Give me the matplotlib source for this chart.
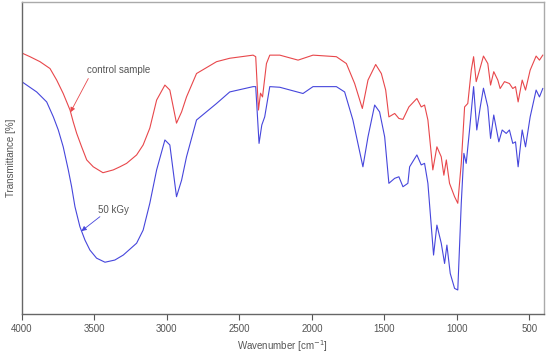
import matplotlib
matplotlib.use("Agg")
import matplotlib.pyplot as plt

plt.rcParams['font.family'] = ['Liberation Sans', 'DejaVu Sans']

# FTIR spectra (wavenumber in cm-1, transmittance in arbitrary %)
control_wn = [4000, 3943, 3874, 3805, 3759, 3714, 3667, 3645, 3621, 3587, 3552, 3507,
              3440, 3369, 3323, 3277, 3208, 3163, 3117, 3070, 3013,
              2979, 2933, 2898, 2864, 2795, 2657, 2566, 2405, 2387, 2368, 2354, 2340,
              2313, 2290, 2221, 2095, 1992, 1831, 1762, 1705, 1652, 1613, 1560, 1521,
              1491, 1469, 1429, 1400, 1372, 1331, 1276, 1246, 1223, 1200, 1166, 1138,
              1108, 1090, 1073, 1051, 1016, 994, 970, 947, 925, 901, 885, 867, 844,
              817, 787, 768, 746, 718, 702, 672, 638, 615, 596, 578, 550, 527, 495,
              454, 431, 408]
control_t = [83.7, 82.5, 80.9, 78.7, 75.0, 70.7, 65.4, 61.6, 57.9, 53.6, 49.4, 47.2,
             45.3, 46.2, 47.2, 48.3, 51.0, 54.2, 59.6, 68.6, 73.4,
             71.8, 61.2, 64.8, 69.6, 77.1, 80.9, 82.0, 83.0, 82.5, 65.4, 70.8, 69.6,
             80.3, 83.0, 83.0, 81.4, 83.0, 82.5, 80.3, 73.9, 65.9, 75.0, 80.0, 77.1,
             71.8, 63.2, 64.3, 62.7, 62.4, 66.4, 69.1, 66.4, 67.0, 62.2, 46.2, 53.6,
             50.4, 44.5, 49.4, 41.9, 37.6, 35.5, 48.3, 66.4, 67.5, 78.2, 82.5, 74.5, 78.2,
             82.7, 80.3, 73.4, 77.7, 75.0, 72.3, 74.5, 73.9, 72.3, 72.9, 68.0, 75.0, 71.8, 78.2,
             82.7, 81.4, 83.0]

irr_wn = [4000, 3897, 3828, 3782, 3748, 3714, 3679, 3656, 3633, 3599, 3564, 3530,
          3484, 3426, 3358, 3300, 3208, 3163, 3117, 3070,
          3013, 2979, 2933, 2898, 2864, 2795, 2657, 2566, 2405, 2387, 2364, 2345,
          2325, 2290, 2221, 2061, 1992, 1831, 1774, 1717, 1648, 1613, 1567, 1533,
          1498, 1469, 1429, 1400, 1372, 1338, 1326, 1276, 1246, 1223, 1200, 1161,
          1138, 1108, 1085, 1069, 1046, 1016, 994, 970, 952, 936, 913, 885, 863,
          839, 817, 787, 768, 746, 711, 688, 660, 638, 615, 596, 578, 550, 527,
          495, 454, 431, 408]
irr_t = [74.5, 71.2, 68.0, 63.2, 59.0, 53.6, 46.2, 40.8, 34.4, 28.0, 23.7, 20.5,
         17.9, 16.6, 17.3, 18.9, 22.7, 26.9, 35.5, 46.2,
         55.8, 54.2, 37.6, 42.9, 50.4, 62.2, 67.5, 71.2, 72.9, 72.9, 54.7, 60.6,
         63.2, 72.9, 72.7, 70.7, 72.9, 72.9, 71.2, 62.2, 47.2, 56.8, 67.0, 64.8,
         56.8, 41.9, 43.5, 44.0, 40.8, 41.9, 47.2, 51.0, 47.8, 48.3, 41.9, 18.9,
         28.5, 22.7, 16.2, 22.1, 13.0, 8.2, 7.7, 35.5, 51.5, 48.3, 59.0, 72.9, 59.0,
         66.4, 72.4, 66.4, 56.3, 63.8, 55.2, 59.0, 57.9, 59.0, 54.7, 55.2, 47.2, 59.0, 53.6,
         63.2, 71.8, 69.6, 72.3]

red = '#e8474b'
blue = '#4646dc'
gray = '#555555'

fig = plt.figure(figsize=(5.5, 3.53), dpi=100)
ax = fig.add_axes([0.0395, 0.1105, 0.9495, 0.8835])

ax.plot(control_wn, control_t, color=red, linewidth=0.8)
ax.plot(irr_wn, irr_t, color=blue, linewidth=0.8)

ax.set_xlim(4000, 400)
ax.set_ylim(0, 100)
ax.set_xticks([4000, 3500, 3000, 2500, 2000, 1500, 1000, 500])
ax.set_yticks([])
ax.tick_params(axis='x', direction='out', length=4, width=0.8, colors=gray,
               labelsize=7, pad=3)

for side in ['left', 'bottom']:
    ax.spines[side].set_color('#666666')
    ax.spines[side].set_linewidth(1.0)
for side in ['top', 'right']:
    ax.spines[side].set_color('#aaaaaa')
    ax.spines[side].set_linewidth(1.0)

ax.set_xlabel('Wavenumber [cm$^{-1}$]', fontsize=7, color=gray, labelpad=3)
ax.set_ylabel('Transmittance [%]', fontsize=7, color=gray, labelpad=4)

# labels with arrows pointing at the curves
ax.text(3552, 78.2, 'control sample', fontsize=7, color=gray, ha='left', va='center')
ax.annotate('', xy=(3664, 64.7), xytext=(3541, 75.5),
            arrowprops=dict(arrowstyle='-|>', color=red, lw=0.6,
                            mutation_scale=7, shrinkA=0, shrinkB=0))
ax.text(3472, 33.3, '50 kGy', fontsize=7, color=gray, ha='left', va='center')
ax.annotate('', xy=(3588, 26.6), xytext=(3461, 31.2),
            arrowprops=dict(arrowstyle='-|>', color=blue, lw=0.6,
                            mutation_scale=7, shrinkA=0, shrinkB=0))

fig.savefig('out.png', dpi=100)
